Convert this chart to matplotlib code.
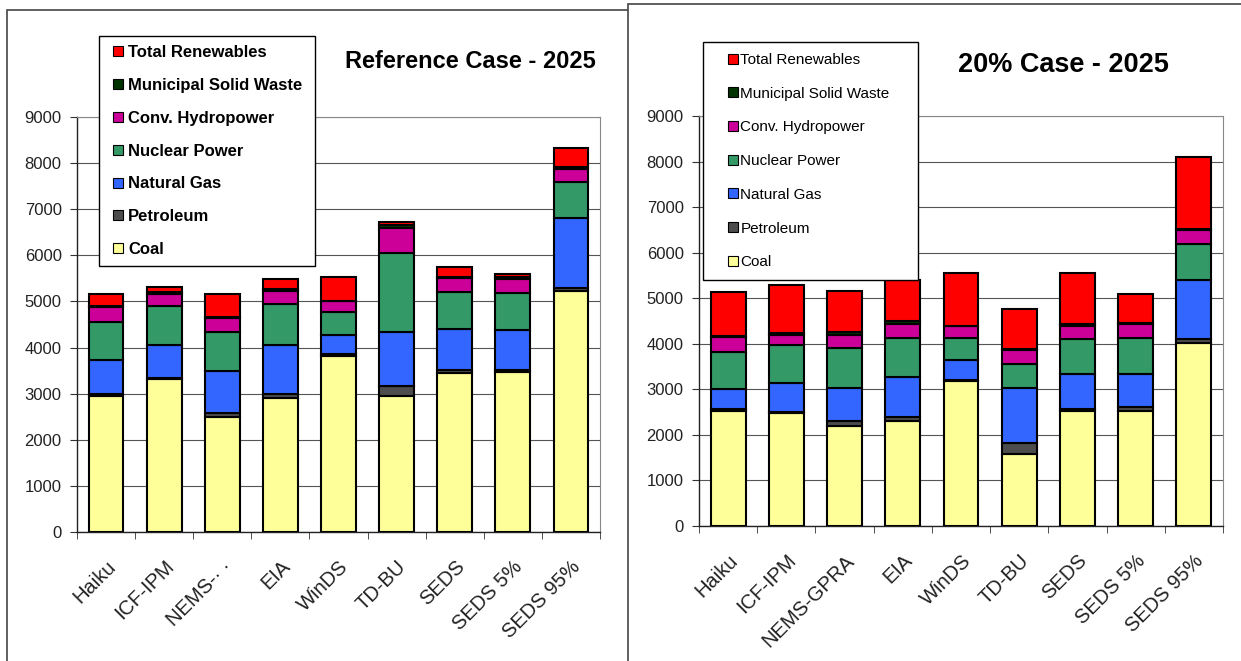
import matplotlib
matplotlib.use("Agg")
import matplotlib.pyplot as plt
from matplotlib.lines import Line2D
from matplotlib.patches import Rectangle
import numpy as np

plt.rcParams['font.family'] = ['Liberation Sans', 'DejaVu Sans']

W, H = 1241, 661

models_ref = ['Haiku', 'ICF-IPM', 'NEMS-· ·', 'EIA', 'WinDS', 'TD-BU', 'SEDS', 'SEDS 5%', 'SEDS 95%']
models_20 = ['Haiku', 'ICF-IPM', 'NEMS-GPRA', 'EIA', 'WinDS', 'TD-BU', 'SEDS', 'SEDS 5%', 'SEDS 95%']

sources = ['Coal', 'Petroleum', 'Natural Gas', 'Nuclear Power',
           'Conv. Hydropower', 'Municipal Solid Waste', 'Total Renewables']
colors = ['#FFFF99', '#4D4D4D', '#3366FF', '#339966', '#CC0099', '#003300', '#FF0000']

# Reference case - 2025 (segment sizes)
ref_coal = [2950, 3310, 2500, 2900, 3820, 2950, 3440, 3460, 5220]
ref_petroleum = [40, 40, 90, 90, 30, 210, 70, 50, 80]
ref_gas = [740, 710, 900, 1070, 420, 1180, 900, 870, 1500]
ref_nuclear = [820, 850, 850, 880, 510, 1710, 800, 800, 780]
ref_hydro = [320, 260, 300, 280, 230, 550, 290, 300, 300]
ref_msw = [30, 40, 30, 60, 10, 50, 30, 40, 30]
ref_renew = [260, 100, 500, 200, 510, 80, 210, 70, 410]

# 20% case - 2025 (segment sizes)
c20_coal = [2530, 2490, 2190, 2300, 3190, 1590, 2530, 2530, 4020]
c20_petroleum = [40, 20, 120, 90, 20, 230, 40, 90, 80]
c20_gas = [430, 630, 730, 870, 430, 1220, 770, 720, 1300]
c20_nuclear = [820, 840, 870, 870, 490, 520, 760, 790, 790]
c20_hydro = [320, 220, 290, 300, 250, 310, 290, 300, 300]
c20_msw = [20, 30, 50, 60, 10, 20, 40, 20, 20]
c20_renew = [970, 1060, 900, 920, 1170, 880, 1130, 640, 1590]


def draw_panel(ax, models, layers):
    x = np.arange(len(models))
    bottom = np.zeros(len(models))
    for vals, col in zip(layers, colors):
        ax.bar(x, vals, width=0.6, bottom=bottom, color=col,
               edgecolor='black', linewidth=1.5, zorder=3)
        bottom += np.array(vals)
    ax.set_xlim(-0.5, len(models) - 0.5)
    ax.set_ylim(0, 9000)
    ax.set_yticks(np.arange(0, 9001, 1000))
    ax.yaxis.grid(True, color='#555555', linewidth=0.8, zorder=0)
    ax.set_xticks(x)
    ax.set_xticklabels(models, rotation=45, ha='right', rotation_mode='anchor',
                       fontsize=14.5, color='#222222')
    ax.set_xticks(np.arange(-0.5, len(models), 1), minor=True)
    ax.tick_params(axis='x', which='major', length=0, pad=18)
    ax.tick_params(axis='x', which='minor', length=5, color='#333333', direction='out')
    ax.tick_params(axis='y', length=5, pad=6, labelsize=12, labelcolor='#222222', color='#333333')
    for s in ['top', 'right']:
        ax.spines[s].set_color('#888888')
    for s in ['left', 'bottom']:
        ax.spines[s].set_color('#222222')
        ax.spines[s].set_linewidth(1.0)


fig = plt.figure(figsize=(W / 100, H / 100), dpi=100)

# panel frames
fig.patches.append(Rectangle((7 / W, -0.1), 0.6, 1 - 10 / H + 0.1, transform=fig.transFigure,
                             facecolor='white', edgecolor='#444444', linewidth=1.2, zorder=-2))
fig.patches.append(Rectangle((628 / W, -0.1), 0.6, 1 - 4 / H + 0.1, transform=fig.transFigure,
                             facecolor='white', edgecolor='#444444', linewidth=1.2, zorder=-1))

ax1 = fig.add_axes([77 / W, 1 - 532 / H, (600 - 77) / W, (532 - 117) / H])
ax2 = fig.add_axes([699 / W, 1 - 526 / H, (1223 - 699) / W, (526 - 116) / H])

draw_panel(ax1, models_ref, [ref_coal, ref_petroleum, ref_gas, ref_nuclear, ref_hydro, ref_msw, ref_renew])
draw_panel(ax2, models_20, [c20_coal, c20_petroleum, c20_gas, c20_nuclear, c20_hydro, c20_msw, c20_renew])

handles = [Line2D([], [], linestyle='none', marker='s', markersize=6.5,
                  markerfacecolor=c, markeredgecolor='black', markeredgewidth=0.8)
           for c in colors][::-1]
labels = sources[::-1]

leg1 = fig.legend(handles, labels, loc='upper left', mode='expand',
                  bbox_to_anchor=(99 / W, 1 - 265 / H, (315 - 99) / W, (265 - 36) / H),
                  borderaxespad=0, borderpad=0.55, labelspacing=1.07, handlelength=1.2,
                  handletextpad=0.0, fancybox=False, edgecolor='black', framealpha=1,
                  prop={'size': 12, 'weight': 'bold'})
leg1.get_frame().set_linewidth(1.0)

leg2 = fig.legend(handles, labels, loc='upper left', mode='expand',
                  bbox_to_anchor=(703 / W, 1 - 277 / H, (918 - 703) / W, (277 - 42) / H),
                  borderaxespad=0, borderpad=0.72, labelspacing=1.29, handlelength=2.5,
                  handletextpad=-0.77, fancybox=False, edgecolor='black', framealpha=1,
                  prop={'size': 11})
leg2.get_frame().set_linewidth(1.0)

fig.text(470 / W, 1 - 62 / H, 'Reference Case - 2025', ha='center', va='center',
         fontsize=17, fontweight='bold')
fig.text(1063 / W, 1 - 65 / H, '20% Case - 2025', ha='center', va='center',
         fontsize=19.5, fontweight='bold')

fig.savefig('out.png', dpi=100)
